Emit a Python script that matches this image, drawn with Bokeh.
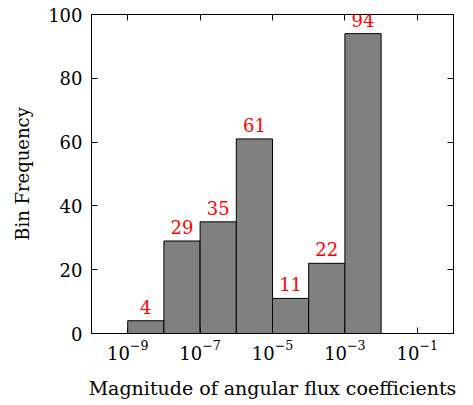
from bokeh.plotting import figure
from bokeh.models import Range1d, FixedTicker, LogAxis, LinearAxis, ColumnDataSource, LabelSet
from bokeh.core.properties import value
from bokeh.embed import file_html
from bokeh.resources import INLINE
import numpy as np

# Data
bin_edges = [1e-10, 1e-9, 1e-8, 1e-7, 1e-6, 1e-5, 1e-4, 1e-3, 1e-2, 1e-1, 1e0]
counts = [0, 4, 29, 35, 61, 11, 22, 94, 0, 0]
x_ticks = [1e-9, 1e-7, 1e-5, 1e-3, 1e-1]
y_ticks = [0, 20, 40, 60, 80, 100]

FONT = "DejaVu Serif"
FS = "18px"

left = bin_edges[:-1]
right = bin_edges[1:]
centers = [float(np.sqrt(a * b)) for a, b in zip(left, right)]

p = figure(width=465, height=404, x_axis_type="log",
           x_range=Range1d(1e-10, 1e0), y_range=Range1d(0, 100),
           output_backend="svg", toolbar_location=None,
           min_border_left=91, min_border_right=12,
           min_border_top=14, min_border_bottom=71)
p.grid.visible = False
p.background_fill_color = "white"
p.border_fill_color = "white"
p.outline_line_color = "black"
p.outline_line_width = 1

src = ColumnDataSource(dict(left=left, right=right, top=counts,
                            bottom=[0] * len(counts)))
p.quad(left="left", right="right", top="top", bottom="bottom", source=src,
       fill_color="#808080", line_color="black", line_width=1)

lab_idx = [i for i, c in enumerate(counts) if c > 0]
lab_src = ColumnDataSource(dict(x=[centers[i] for i in lab_idx],
                                y=[counts[i] for i in lab_idx],
                                t=[str(counts[i]) for i in lab_idx]))
labels = LabelSet(x="x", y="y", text="t", source=lab_src, text_align="center",
                  text_baseline="alphabetic", y_offset=7, text_color="red",
                  text_font=value(FONT), text_font_size=value(FS))
p.add_layout(labels)

def style(ax, show_labels=True):
    ax.major_tick_in = 6
    ax.major_tick_out = 0
    ax.minor_tick_line_color = None
    ax.axis_line_color = "black"
    ax.major_tick_line_color = "black"
    ax.major_label_text_font = FONT
    ax.major_label_text_color = "black"
    ax.axis_label_text_font = FONT
    ax.axis_label_text_font_style = "normal"
    ax.axis_label_text_color = "black"
    if show_labels:
        ax.major_label_text_font_size = FS
        ax.axis_label_text_font_size = FS
    else:
        ax.major_label_text_font_size = "1px"
        ax.major_label_text_alpha = 0
        ax.major_label_standoff = 0

xa = p.xaxis[0]
xa.ticker = FixedTicker(ticks=x_ticks)
xa.axis_label = "Magnitude of angular flux coefficients"
style(xa)
xa.axis_label_text_font_size = "19px"
xa.major_label_standoff = 6
xa.axis_label_standoff = 14

ya = p.yaxis[0]
ya.ticker = FixedTicker(ticks=y_ticks)
ya.axis_label = "Bin Frequency"
style(ya)
ya.major_label_standoff = 9
ya.axis_label_standoff = 12

top_ax = LogAxis(ticker=FixedTicker(ticks=x_ticks))
style(top_ax, False)
p.add_layout(top_ax, "above")
right_ax = LinearAxis(ticker=FixedTicker(ticks=y_ticks))
style(right_ax, False)
p.add_layout(right_ax, "right")

open("out.html", "w").write(file_html(p, INLINE))
